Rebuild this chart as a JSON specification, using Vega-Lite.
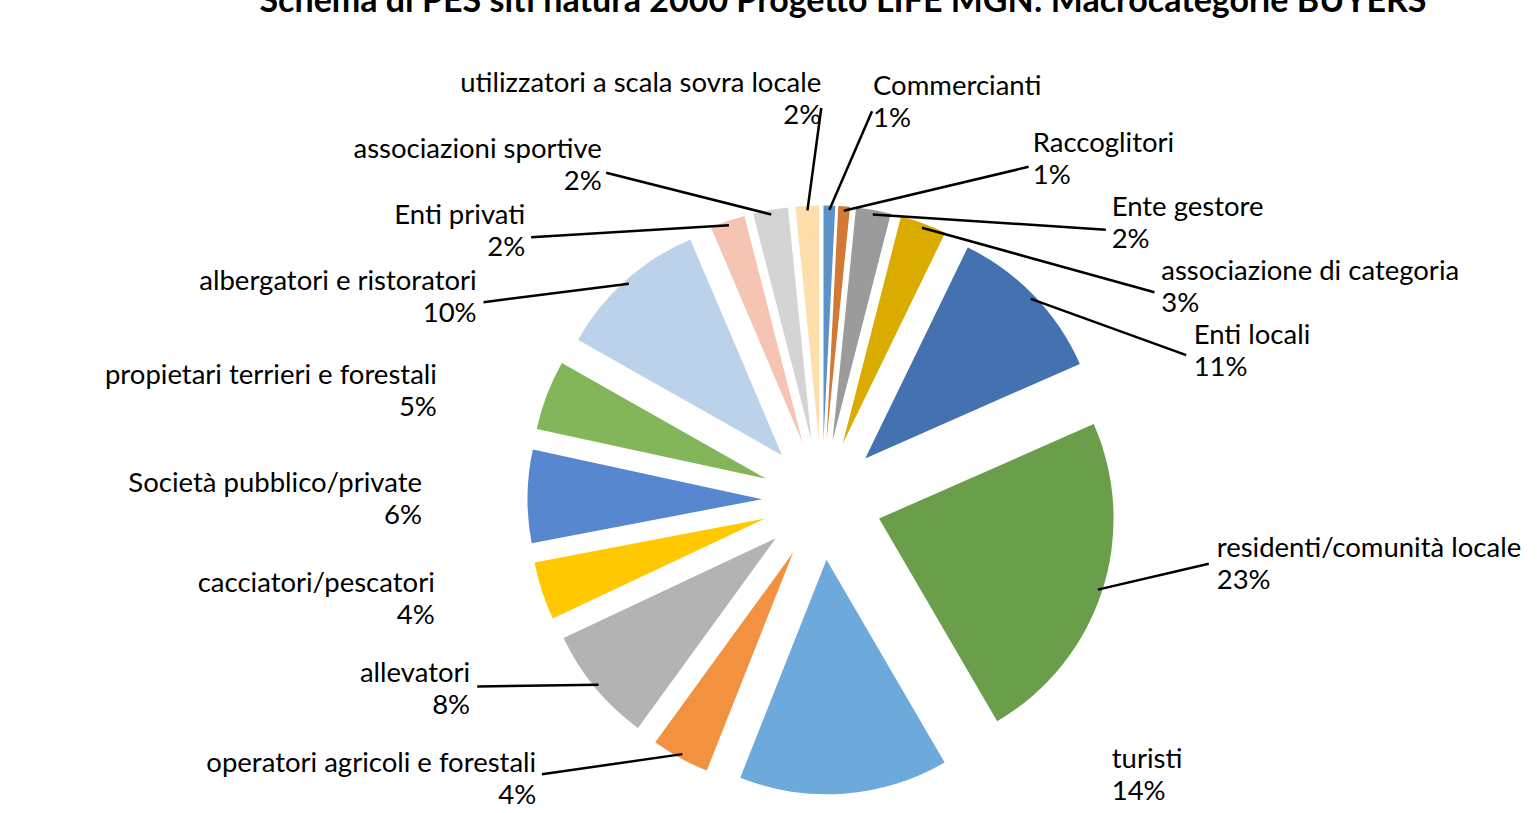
{
  "$schema": "https://vega.github.io/schema/vega-lite/v6.json",
  "width": 1430,
  "height": 626,
  "autosize": {"type": "none"},
  "padding": {"left": 107, "top": 187, "right": 0, "bottom": 0},
  "background": "white",
  "view": {"stroke": null},
  "title": {
    "text": "Schema di PES siti natura 2000 Progetto LIFE MGN: Macrocategorie BUYERS",
    "font": "Lato",
    "fontSize": 34,
    "fontWeight": "bold",
    "color": "black",
    "anchor": "middle",
    "frame": "group",
    "baseline": "alphabetic",
    "offset": 47,
    "dx": 21,
    "dy": 23
  },
  "data": {
    "values": [
      {"order": 1, "cat": "Commercianti", "n": 1, "pct": "1%"},
      {"order": 2, "cat": "Raccoglitori", "n": 1, "pct": "1%"},
      {"order": 3, "cat": "Ente gestore", "n": 3, "pct": "2%"},
      {"order": 4, "cat": "associazione di categoria", "n": 4, "pct": "3%"},
      {"order": 5, "cat": "Enti locali", "n": 14, "pct": "11%"},
      {"order": 6, "cat": "residenti/comunità locale", "n": 29, "pct": "23%"},
      {"order": 7, "cat": "turisti", "n": 18, "pct": "14%"},
      {"order": 8, "cat": "operatori agricoli e forestali", "n": 5, "pct": "4%"},
      {"order": 9, "cat": "allevatori", "n": 10, "pct": "8%"},
      {"order": 10, "cat": "cacciatori/pescatori", "n": 5, "pct": "4%"},
      {"order": 11, "cat": "Società pubblico/private", "n": 8, "pct": "6%"},
      {"order": 12, "cat": "propietari terrieri e forestali", "n": 6, "pct": "5%"},
      {"order": 13, "cat": "albergatori e ristoratori", "n": 13, "pct": "10%"},
      {"order": 14, "cat": "Enti privati", "n": 3, "pct": "2%"},
      {"order": 15, "cat": "associazioni sportive", "n": 3, "pct": "2%"},
      {"order": 16, "cat": "utilizzatori a scala sovra locale", "n": 2, "pct": "2%"}
    ]
  },
  "layer": [
    {
      "mark": {
        "type": "arc",
        "outerRadius": 234.5,
        "xOffset": {"expr": "60*sin(scale('layer_0_theta', (datum.n_start + datum.n_end)/2))"},
        "yOffset": {"expr": "-60*cos(scale('layer_0_theta', (datum.n_start + datum.n_end)/2))"}
      },
      "encoding": {
        "theta": {"field": "n", "type": "quantitative", "stack": true},
        "order": {"field": "order", "type": "quantitative"},
        "color": {
          "field": "cat",
          "type": "nominal",
          "legend": null,
          "scale": {
            "domain": ["Commercianti", "Raccoglitori", "Ente gestore", "associazione di categoria", "Enti locali", "residenti/comunità locale", "turisti", "operatori agricoli e forestali", "allevatori", "cacciatori/pescatori", "Società pubblico/private", "propietari terrieri e forestali", "albergatori e ristoratori", "Enti privati", "associazioni sportive", "utilizzatori a scala sovra locale"],
            "range": ["#5B93C8", "#D27A35", "#9B9B9B", "#DBAC00", "#4472B1", "#6B9E4A", "#6EA9DB", "#F29241", "#B3B3B3", "#FFC800", "#5687CF", "#83B65A", "#BCD1EA", "#F6C4B2", "#D4D4D4", "#FFDEAB"]
          }
        }
      }
    },
    {
      "transform": [
        {"stack": "n", "groupby": [], "sort": [{"field": "order", "order": "ascending"}], "as": ["s0", "s1"]},
        {"filter": "datum.order != 7 && datum.order != 10 && datum.order != 11 && datum.order != 12"}
      ],
      "mark": {"type": "rule", "color": "black", "strokeWidth": 2.5},
      "encoding": {
        "x": {"value": {"expr": "width/2 + 290*sin(scale('layer_0_theta', (datum.s0 + datum.s1)/2))"}},
        "y": {"value": {"expr": "height/2 - 290*cos(scale('layer_0_theta', (datum.s0 + datum.s1)/2))"}},
        "x2": {"value": {"expr": "width/2 + 392*sin(scale('layer_2_theta', (datum.s0 + datum.s1)/2))"}},
        "y2": {"value": {"expr": "height/2 - 392*cos(scale('layer_2_theta', (datum.s0 + datum.s1)/2))"}}
      }
    },
    {
      "encoding": {
        "theta": {
          "field": "n",
          "type": "quantitative",
          "stack": true,
          "scale": {
            "domain": [0.5, 1.5, 3.5, 7, 16, 37.5, 61, 72.5, 80, 87.5, 94, 101, 110.5, 118.5, 121.5, 124],
            "range": [0.1279, 0.555, 0.8098, 1.0123, 1.1921, 1.734, 2.3317, 3.9375, 4.2167, 4.4593, 4.7124, 4.9864, 5.2412, 5.4472, 5.7002, 6.2814],
            "zero": false,
            "nice": false
          }
        },
        "order": {"field": "order", "type": "quantitative"},
        "detail": {"field": "cat", "type": "nominal"}
      },
      "layer": [
        {
          "mark": {
            "type": "text",
            "radius": 400,
            "dy": -16,
            "font": "Lato",
            "fontSize": 27.5,
            "color": "black",
            "baseline": "middle",
            "align": {"expr": "datum.order <= 7 ? 'left' : 'right'"}
          },
          "encoding": {"text": {"field": "cat", "type": "nominal"}}
        },
        {
          "mark": {
            "type": "text",
            "radius": 400,
            "dy": 16,
            "font": "Lato",
            "fontSize": 27.5,
            "color": "black",
            "baseline": "middle",
            "align": {"expr": "datum.order <= 7 ? 'left' : 'right'"}
          },
          "encoding": {"text": {"field": "pct", "type": "nominal"}}
        }
      ]
    }
  ],
  "resolve": {"scale": {"theta": "independent"}}
}
